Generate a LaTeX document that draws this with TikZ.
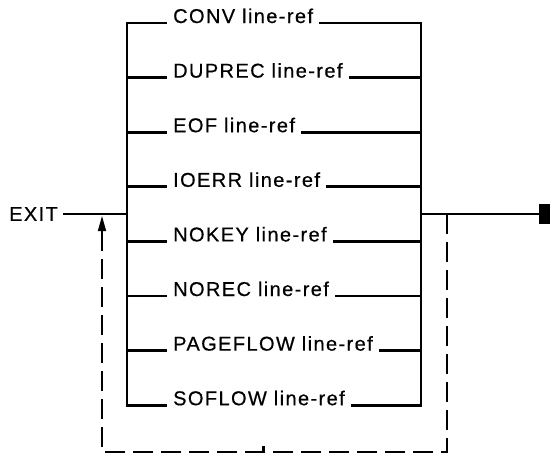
\documentclass[tikz,border=0pt]{standalone}
\usepackage{fontspec}
\setmainfont{Liberation Sans}[LetterSpace=7,FakeBold=0.5]
\usetikzlibrary{arrows.meta}
\begin{document}
\begin{tikzpicture}[x=1pt,y=-1pt,
  wire/.style={line width=2.8pt},
  loopback/.style={line width=2.2pt, dash pattern=on 20pt off 8pt},
  kwfont/.style={font=\fontsize{20}{22}\selectfont},
  kwlabel/.style={kwfont, inner xsep=6pt, inner ysep=0pt, anchor=base west},
  stopbox/.style={fill=black, minimum width=13pt, minimum height=20pt, inner sep=0pt, anchor=west}]
\useasboundingbox (0,0) rectangle (550,456);

% the eight alternative options, stacked between two rails
\foreach \kw [count=\i from 0] in {CONV,DUPREC,EOF,IOERR,NOKEY,NOREC,PAGEFLOW,SOFLOW}{
  \pgfmathsetmacro\yy{23+54.6*\i}
  \coordinate (L\i) at (127,\yy);
  \coordinate (R\i) at (421,\yy);
  \node[kwlabel] (k\i) at (167,\yy) {\kw{} line-ref};
}

% left and right rails with the first and last branches
\draw[wire] (k0.base west) -- (L0) -- (L7) -- (k7.base west);
\draw[wire] (k0.base east) -- (R0) -- (R7) -- (k7.base east);
\foreach \i in {1,...,6}{
  \draw[wire] (L\i) -- (k\i.base west);
  \draw[wire] (k\i.base east) -- (R\i);
}

% main line: keyword in, terminator out
\node[kwfont, inner xsep=5pt, inner ysep=0pt, anchor=west] (exit) at (4,214) {EXIT};
\coordinate (Lm) at (127,214);
\coordinate (Rm) at (421,214);
\node[stopbox] (stop) at (539,214) {};
\draw[wire] (exit.east) -- (Lm);
\draw[wire] (Rm) -- (stop.west);

% dashed repeat loop
\coordinate (Dm) at (447,214);
\coordinate (D1) at (447,452);
\coordinate (D2) at (102,452);
\coordinate (Ah) at (102,233);
\coordinate (At) at (102,216);
\draw[loopback] (Dm) -- (D1) -- (D2) -- (Ah);
\draw[line width=1.5pt, -{Triangle[width=8pt,length=15pt]}] (Ah) -- (At);
\fill (262,446) rectangle (265,452);
\end{tikzpicture}
\end{document}
